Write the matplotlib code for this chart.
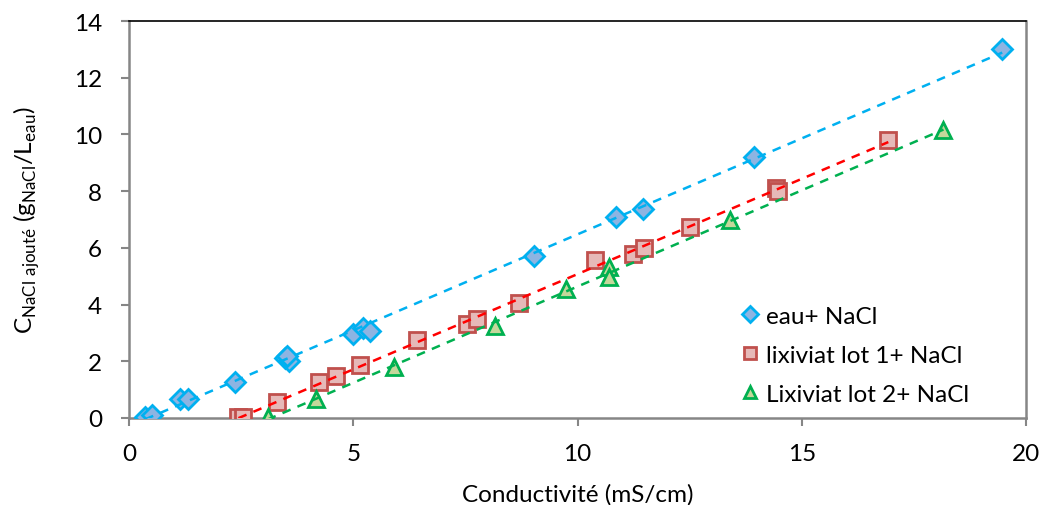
import numpy as np
import matplotlib
matplotlib.use("Agg")
import matplotlib.pyplot as plt

plt.rcParams['font.family'] = ['Lato', 'DejaVu Sans']
plt.rcParams['mathtext.fontset'] = 'custom'
plt.rcParams['mathtext.rm'] = 'Lato'

# eau + NaCl
eau_x = [0.36, 0.51, 1.13, 1.31, 2.36, 3.48, 3.56, 3.52, 5.00, 5.22, 5.37, 9.02, 10.86, 11.45, 13.93, 19.47]
eau_y = [0.02, 0.12, 0.67, 0.66, 1.28, 2.12, 2.02, 2.20, 2.96, 3.16, 3.06, 5.72, 7.10, 7.37, 9.21, 13.01]

# lixiviat lot 1 + NaCl
lot1_x = [2.44, 2.55, 3.30, 4.23, 4.61, 5.14, 6.43, 7.53, 7.77, 8.70, 10.39, 11.23, 11.49, 12.51, 14.42, 14.46, 16.93]
lot1_y = [0.02, 0.02, 0.58, 1.28, 1.47, 1.87, 2.76, 3.31, 3.49, 4.06, 5.57, 5.77, 5.98, 6.75, 8.12, 8.02, 9.81]

# Lixiviat lot 2 + NaCl
lot2_x = [3.09, 4.17, 5.90, 8.16, 9.75, 10.71, 10.71, 13.40, 18.16]
lot2_y = [0.02, 0.67, 1.79, 3.25, 4.55, 5.31, 4.96, 6.98, 10.15]

labels = ['eau+ NaCl', 'lixiviat lot 1+ NaCl', 'Lixiviat lot 2+ NaCl']

series = [
    (eau_x, eau_y, 'D', '#00B0F0', '#8DB4E2', '#00B0F0', 10.5),
    (lot1_x, lot1_y, 's', '#C0504D', '#E6B9B8', '#FF0000', 11),
    (lot2_x, lot2_y, '^', '#00B050', '#C4D79B', '#00B050', 11),
]

fig = plt.figure(figsize=(10.44, 5.06), dpi=100)
ax = fig.add_axes([129/1044, 1 - 419/506, (1026-129)/1044, (419-22)/506])

handles = []
for (xs, ys, m, ec, fc, lc, ms), lab in zip(series, labels):
    xs = np.array(xs); ys = np.array(ys)
    h, = ax.plot(xs, ys, linestyle='none', marker=m, markersize=ms,
                 markerfacecolor=fc, markeredgecolor=ec, markeredgewidth=2.0,
                 label=lab, zorder=3)
    handles.append(h)
    a, b = np.polyfit(xs, ys, 1)
    xx = np.array([xs.min(), xs.max()])
    ax.plot(xx, a*xx + b, linestyle=(0, (3.5, 3)), color=lc, linewidth=1.8, zorder=4)

ax.set_xlim(0, 20)
ax.set_ylim(0, 14)
ax.set_xticks([0, 5, 10, 15, 20])
ax.set_yticks(np.arange(0, 15, 2))
ax.tick_params(direction='out', length=6, width=1.5, color='#868686',
               labelsize=17.5)
ax.tick_params(axis='x', pad=12)
ax.tick_params(axis='y', pad=13.5)

for s in ['left', 'bottom', 'right']:
    ax.spines[s].set_color('#868686')
    ax.spines[s].set_linewidth(1.8)
ax.spines['top'].set_color('black')
ax.spines['top'].set_linewidth(1.2)

ax.set_xlabel('Conductivité (mS/cm)', fontsize=17.5, labelpad=14)
ax.set_ylabel(r'C$_{\mathregular{NaCl\ ajouté}}$ (g$_{\mathregular{NaCl}}$/L$_{\mathregular{eau}}$)',
              fontsize=17.5, labelpad=23)

leg = ax.legend(handles=handles, loc='lower left', bbox_to_anchor=(0.66, -0.022),
                frameon=False, fontsize=17.5, handlelength=0.6, handletextpad=0.35,
                labelspacing=0.74, markerscale=0.75)

fig.savefig('out.png', dpi=100)
